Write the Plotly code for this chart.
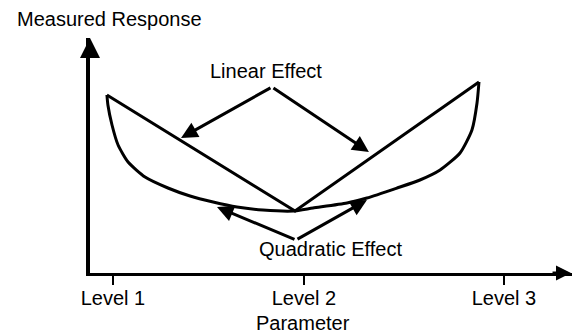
import plotly.graph_objects as go

# ---- data ----
level_labels = ["Level 1", "Level 2", "Level 3"]
level_pos = [1.0, 1.977, 3.0]

# linear effect: straight segments through the three level responses
linear_x = [0.969, 1.931, 2.872]
linear_y = [17.8, 6.2, 19.1]

# quadratic effect: curved response
quad_x = [0.969, 0.974, 0.995, 1.026, 1.077, 1.164, 1.281, 1.394, 1.512, 1.634,
          1.767, 1.921, 2.023, 2.197, 2.299, 2.453, 2.570, 2.673, 2.775, 2.836,
          2.862, 2.872]
quad_y = [17.8, 16.8, 14.8, 12.8, 11.1, 9.6, 8.5, 7.7, 7.1, 6.6,
          6.3, 6.2, 6.5, 7.0, 7.5, 8.5, 9.3, 10.3, 12.0, 14.3,
          17.0, 19.1]

# callout labels and the points they point to
linear_label = "Linear Effect"
linear_label_pos = (1.785, 20.2)
linear_apex = (1.813, 18.6)
linear_targets = [(1.348, 13.5), (2.309, 12.1)]

quad_label = "Quadratic Effect"
quad_label_pos = (2.115, 2.4)
quad_apex = (1.936, 3.3)
quad_targets = [(1.532, 6.6), (2.299, 7.3)]

x_range = [0.8824, 3.3478]
y_range = [0, 23.5]

FONT = "Liberation Sans, Arial, sans-serif"
FS = 20

fig = go.Figure()
fig.add_trace(go.Scatter(x=quad_x, y=quad_y, mode="lines",
                         line=dict(color="black", width=3, shape="spline", smoothing=0.6),
                         hoverinfo="skip", showlegend=False))
fig.add_trace(go.Scatter(x=linear_x, y=linear_y, mode="lines",
                         line=dict(color="black", width=3),
                         hoverinfo="skip", showlegend=False))

ann = []
for tx, ty in linear_targets:
    ann.append(dict(x=tx, y=ty, ax=linear_apex[0], ay=linear_apex[1],
                    xref="x", yref="y", axref="x", ayref="y", text="",
                    showarrow=True, arrowhead=2, arrowsize=1.1, arrowwidth=3,
                    arrowcolor="black", standoff=0))
for tx, ty in quad_targets:
    ann.append(dict(x=tx, y=ty, ax=quad_apex[0], ay=quad_apex[1],
                    xref="x", yref="y", axref="x", ayref="y", text="",
                    showarrow=True, arrowhead=2, arrowsize=1.1, arrowwidth=3,
                    arrowcolor="black", standoff=0))
ann.append(dict(x=linear_label_pos[0], y=linear_label_pos[1], xref="x", yref="y",
                text=linear_label, showarrow=False, font=dict(size=FS, color="black")))
ann.append(dict(x=quad_label_pos[0], y=quad_label_pos[1], xref="x", yref="y",
                text=quad_label, showarrow=False, font=dict(size=FS, color="black")))
# axis titles
ann.append(dict(x=0.041, y=1.081, xref="paper", yref="paper", text="Measured Response",
                showarrow=False, font=dict(size=FS, color="black"),
                xanchor="center", yanchor="middle"))
ann.append(dict(x=0.442, y=-0.212, xref="paper", yref="paper", text="Parameter",
                showarrow=False, font=dict(size=FS, color="black"),
                xanchor="center", yanchor="middle"))
# axis arrowheads
ann.append(dict(x=0, y=1.0, xref="paper", yref="paper", ax=0, ay=20, text="",
                showarrow=True, arrowhead=2, arrowsize=1, arrowwidth=4,
                arrowcolor="black", standoff=0))
ann.append(dict(x=0.998, y=0, xref="paper", yref="paper", ax=-20, ay=0, text="",
                showarrow=True, arrowhead=2, arrowsize=1, arrowwidth=3,
                arrowcolor="black", standoff=0))

fig.update_layout(
    width=572, height=336,
    margin=dict(l=90, r=0, t=38, b=63),
    paper_bgcolor="white", plot_bgcolor="white",
    font=dict(family=FONT, size=FS, color="black"),
    annotations=ann,
    xaxis=dict(range=x_range, showgrid=False, zeroline=False, showline=True,
               linecolor="black", linewidth=3, ticks="outside", ticklen=9,
               tickwidth=2, tickcolor="black", tickvals=level_pos,
               ticktext=level_labels, tickfont=dict(size=FS, color="black"),
               ticklabelstandoff=-4),
    yaxis=dict(range=y_range, showgrid=False, zeroline=False, showline=True,
               linecolor="black", linewidth=4, showticklabels=False, ticks=""),
)

fig.write_html("out.html", config={"displayModeBar": False, "staticPlot": True},
               post_script="document.body.style.margin='0px';document.body.style.overflow='hidden';")
